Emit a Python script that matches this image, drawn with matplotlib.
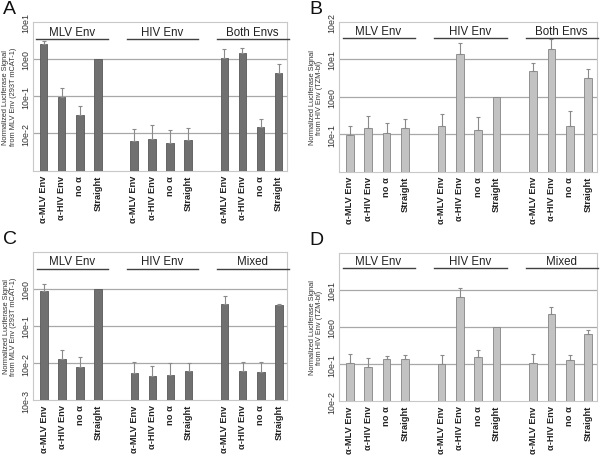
import matplotlib
matplotlib.use("Agg")
import matplotlib.pyplot as plt
import matplotlib.transforms as mtrans
import numpy as np

plt.rcParams['font.family'] = ['Liberation Sans', 'DejaVu Sans']

categories = ["α-MLV Env", "α-HIV Env", "no α", "Straight"]
groups_AB = ["MLV Env", "HIV Env", "Both Envs"]
groups_CD = ["MLV Env", "HIV Env", "Mixed"]

# Panel A (dark bars): bar values and upper error-bar ends, per group
vals_A = [2.5, 0.095, 0.031, 0.98,
          0.0061, 0.0070, 0.0055, 0.0067,
          1.07, 1.4, 0.015, 0.42]
errtop_A = [3.1, 0.17, 0.054, None,
            0.013, 0.017, 0.012, 0.014,
            1.8, 2.0, 0.025, 0.71]

# Panel B (light bars)
vals_B = [0.098, 0.148, 0.109, 0.142,
          0.17, 13.6, 0.13, 1.0,
          4.8, 19.0, 0.17, 3.1]
errtop_B = [0.17, 0.31, 0.20, 0.26,
            0.35, 27.0, 0.29, None,
            7.9, 35.0, 0.41, 5.5]

# Panel C (dark bars)
vals_C = [0.88, 0.0126, 0.0078, 1.0,
          0.0053, 0.0045, 0.0048, 0.0061,
          0.40, 0.0061, 0.0056, 0.376]
errtop_C = [1.4, 0.022, 0.0145, None,
            0.0106, 0.0085, 0.0097, 0.0097,
            0.63, 0.0106, 0.0106, 0.40]

# Panel D (light bars)
vals_D = [0.107, 0.083, 0.136, 0.136,
          0.098, 6.5, 0.157, 1.0,
          0.105, 2.25, 0.128, 0.65]
errtop_D = [0.19, 0.145, 0.165, 0.175,
            0.178, 11.0, 0.24, None,
            0.19, 3.5, 0.175, 0.83]

ylabel_MLV = "Normalized Luciferase Signal\nfrom MLV Env (293T mCAT-1)"
ylabel_HIV = "Normalized Luciferase Signal\nfrom HIV Env (TZM-bl)"

ticks_A = [1e-2, 1e-1, 1e0, 1e1]
ticklabels_A = ["10e-2", "10e-1", "10e0", "10e1"]
ticks_B = [1e-1, 1e0, 1e1, 1e2]
ticklabels_B = ["10e-1", "10e0", "10e1", "10e2"]
ticks_C = [1e-3, 1e-2, 1e-1, 1e0]
ticklabels_C = ["10e-3", "10e-2", "10e-1", "10e0"]
ticks_D = [1e-2, 1e-1, 1e0, 1e1]
ticklabels_D = ["10e-2", "10e-1", "10e0", "10e1"]

positions = [0, 1, 2, 3, 5, 6, 7, 8, 10, 11, 12, 13]
group_starts = [0, 5, 10]

fig = plt.figure(figsize=(6.0, 4.56), dpi=100)

DARK = ("#707070", "#585858")
LIGHT = ("#c2c2c2", "#858585")


def panel(rect, letter, vals, errtop, ylim, ticks, ticklabels, groups,
          ylabel, colors, line_y, text_y):
    ax = fig.add_axes(rect)
    ax.set_yscale("log")
    ax.set_ylim(*ylim)
    ax.set_xlim(-0.6, 13.47)
    fc, ec = colors
    ax.bar(positions, vals, width=0.42, color=fc, edgecolor=ec,
           linewidth=0.6, zorder=3)
    for p, v, e in zip(positions, vals, errtop):
        if e is None:
            continue
        ax.errorbar([p], [v], yerr=[[0], [e - v]], fmt="none",
                    ecolor="#8a8a8a", elinewidth=0.8, capsize=1.5,
                    capthick=0.8, zorder=4)
    for t in ticks:
        if ylim[0] < t < ylim[1]:
            ax.axhline(t, color="#a8a8a8", linewidth=0.9, zorder=1)
    ax.set_yticks(ticks)
    ax.set_yticklabels(ticklabels, rotation=90, va="center", fontsize=6.4,
                       color="#333333")
    ax.minorticks_off()
    ax.tick_params(axis="y", length=0, pad=2)
    ax.set_xticks(positions)
    ax.set_xticklabels(categories * 3, rotation=90, fontsize=6.7,
                       fontweight="bold", color="#222222")
    ax.tick_params(axis="x", length=0, pad=3)
    for s in ax.spines.values():
        s.set_color("#c8c8c8")
        s.set_linewidth(0.8)
    ax.set_ylabel(ylabel, fontsize=5.3, color="#333333", labelpad=3,
                  linespacing=1.1)
    trans = mtrans.blended_transform_factory(ax.transData, ax.transAxes)
    for g, name in zip(group_starts, groups):
        ax.plot([g - 0.4, g + 3.55], [line_y, line_y], color="#404040",
                linewidth=1.0, transform=trans, clip_on=False, zorder=5)
        ax.text(g + 1.55, text_y, name, transform=trans, ha="center",
                va="center", fontsize=8.3, color="#222222")
    fig.text(rect[0] - 0.05, rect[1] + rect[3] + 0.01, letter,
             fontsize=14, va="bottom", ha="left", color="#111111")
    return ax


panel([0.0545, 0.6235, 0.424, 0.3268], "A", vals_A, errtop_A, (1e-3, 1e1),
      ticks_A, ticklabels_A, groups_AB, ylabel_MLV, DARK, 0.884, 0.93)
panel([0.565, 0.6213, 0.4295, 0.329], "B", vals_B, errtop_B, (1e-2, 1e2),
      ticks_B, ticklabels_B, groups_AB, ylabel_HIV, LIGHT, 0.893, 0.938)
panel([0.0555, 0.1206, 0.4233, 0.3246], "C", vals_C, errtop_C, (1e-3, 1e1),
      ticks_C, ticklabels_C, groups_CD, ylabel_MLV, DARK, 0.887, 0.939)
panel([0.565, 0.1184, 0.4295, 0.3246], "D", vals_D, errtop_D, (1e-2, 1e2),
      ticks_D, ticklabels_D, groups_CD, ylabel_HIV, LIGHT, 0.897, 0.946)

fig.savefig("out.png", dpi=100, facecolor="white")
